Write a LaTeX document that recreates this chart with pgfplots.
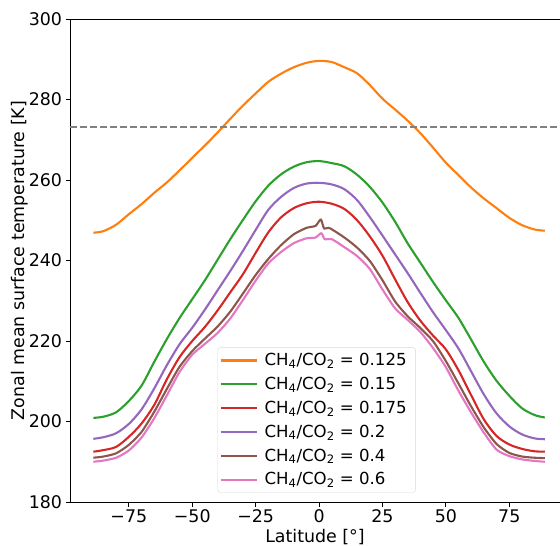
\documentclass[border=0pt]{standalone}
\usepackage{pgfplots}
\pgfplotsset{compat=1.18}
\usepackage{fontspec}
\setmainfont{DejaVu Sans}
\definecolor{cOr}{HTML}{FF7F0E}
\definecolor{cGr}{HTML}{2CA02C}
\definecolor{cRe}{HTML}{D62728}
\definecolor{cPu}{HTML}{9467BD}
\definecolor{cBr}{HTML}{8C564B}
\definecolor{cPi}{HTML}{E377C2}
\begin{document}
\begin{tikzpicture}
\begin{axis}[
  scale only axis, width=490pt, height=483pt,
  xmin=-98.2, xmax=95, ymin=180, ymax=300,
  axis x line*=box, axis y line*=left,
  x axis line style={-, line width=0.9pt},
  y axis line style={-, line width=0.9pt},
  xtick pos=left, ytick pos=left,
  tick align=outside, major tick length=4.5pt,
  tick style={black, line width=0.9pt},
  xtick={-75,-50,-25,0,25,50,75},
  xticklabels={−75,−50,−25,0,25,50,75},
  ytick={180,200,220,240,260,280,300},
  yticklabels={180,200,220,240,260,280,300},
  ticklabel style={font=\fontsize{17.4}{20}\selectfont},
  xlabel={Latitude [°]},
  ylabel={Zonal mean surface temperature [K]},
  label style={font=\fontsize{17.4}{20}\selectfont},
  xlabel style={at={([yshift=-40pt]rel axis cs:0.5,0)}, anchor=base},
  ylabel style={at={([xshift=-45pt]rel axis cs:0,0.5)}, anchor=base},
  legend style={at={(0.3006,0.0193)}, anchor=south west, draw=black!15,
    rounded corners=3pt, fill=white, fill opacity=0.8, text opacity=1,
    font=\fontsize{16.6}{19}\selectfont, row sep=6pt, inner xsep=2pt, inner ysep=4pt,
    nodes={inner xsep=7pt}},
  legend cell align=left,
  legend image code/.code={\draw[#1, line width=2.1pt] (0pt,0pt) -- (36pt,0pt);},
  every axis plot/.append style={line width=2.1pt, line join=round},
]
\addplot[cOr, smooth, tension=0.5] coordinates {
(-89,246.9) (-85,247.3) (-80,248.9) (-75,251.5) (-70,254.0) (-65,256.8) (-60,259.4)
(-55,262.4) (-50,265.5) (-45,268.6) (-40,271.8) (-35,275.2) (-30,278.5) (-25,281.5)
(-20,284.4) (-15,286.4) (-10,288.0) (-5,289.1) (0,289.6) (5,289.3) (10,288.0)
(15,286.5) (20,283.6) (25,280.2) (30,277.5) (35,274.7) (40,271.6) (45,268.0)
(50,264.3) (55,261.2) (60,258.1) (65,255.4) (70,253.0) (75,250.6) (80,248.8)
(85,247.7) (89,247.4)};
\addlegendentry{CH\textsubscript{4}/CO\textsubscript{2} = 0.125}
\addplot[cGr, smooth, tension=0.5] coordinates {
(-89,200.9) (-85,201.2) (-80,202.3) (-75,205.1) (-70,208.9) (-65,214.8) (-60,220.5)
(-55,225.7) (-50,230.4) (-45,235.1) (-40,240.2) (-35,245.3) (-30,250.1) (-25,254.7)
(-20,258.6) (-15,261.4) (-10,263.3) (-5,264.4) (0,264.7) (5,264.2) (10,263.4)
(15,261.3) (20,258.3) (25,254.4) (30,249.6) (35,244.2) (40,239.4) (45,234.6)
(50,230.1) (55,225.7) (60,220.3) (65,214.8) (70,210.1) (75,206.4) (80,203.3)
(85,201.6) (89,201.0)};
\addlegendentry{CH\textsubscript{4}/CO\textsubscript{2} = 0.15}
\addplot[cRe, smooth, tension=0.5] coordinates {
(-89,192.5) (-85,192.9) (-80,193.7) (-75,196.2) (-70,199.5) (-65,204.1) (-60,210.5)
(-55,216.0) (-50,220.0) (-45,223.5) (-40,227.6) (-35,232.1) (-30,236.6) (-25,241.9)
(-20,247.0) (-15,250.7) (-10,253.0) (-5,254.2) (0,254.6) (5,254.1) (10,252.8)
(15,250.0) (20,246.0) (25,241.2) (30,235.3) (35,229.6) (40,225.0) (45,221.3)
(50,217.9) (55,212.7) (60,206.5) (65,200.5) (70,196.4) (75,194.3) (80,193.2)
(85,192.6) (89,192.5)};
\addlegendentry{CH\textsubscript{4}/CO\textsubscript{2} = 0.175}
\addplot[cPu, smooth, tension=0.5] coordinates {
(-89,195.7) (-85,196.1) (-80,197.1) (-75,199.4) (-70,203.0) (-65,208.2) (-60,214.0)
(-55,219.2) (-50,223.3) (-45,227.8) (-40,232.6) (-35,237.4) (-30,242.4) (-25,247.6)
(-20,252.6) (-15,255.8) (-10,258.0) (-5,259.1) (0,259.3) (5,258.9) (10,257.7)
(15,255.0) (20,250.8) (25,246.2) (30,241.5) (35,236.8) (40,231.9) (45,227.1)
(50,222.7) (55,218.1) (60,212.4) (65,206.7) (70,202.0) (75,198.8) (80,196.8)
(85,195.8) (89,195.6)};
\addlegendentry{CH\textsubscript{4}/CO\textsubscript{2} = 0.2}
\addplot[cBr, smooth, tension=0.4] coordinates {
(-89,191.0) (-85,191.3) (-80,192.1) (-75,194.2) (-70,197.4) (-65,202.4) (-60,208.1)
(-55,213.6) (-50,217.5) (-45,220.6) (-40,223.6) (-35,227.3) (-30,231.8) (-25,236.4)
(-20,240.4) (-15,243.8) (-10,246.5) (-5,248.1) (-1.4,248.6) (0.7,250.2) (2,247.9)
(4,248.1) (10,245.7) (15,243.2) (20,239.9) (25,235.1) (30,229.8) (35,226.1)
(40,223.2) (45,219.9) (50,215.0) (55,209.4) (60,203.7) (65,198.5) (70,194.4)
(75,192.2) (80,191.3) (85,191.0) (89,190.9)};
\addlegendentry{CH\textsubscript{4}/CO\textsubscript{2} = 0.4}
\addplot[cPi, smooth, tension=0.4] coordinates {
(-89,190.0) (-85,190.3) (-80,191.0) (-75,192.8) (-70,196.0) (-65,200.8) (-60,206.5)
(-55,212.3) (-50,216.6) (-45,219.3) (-40,222.0) (-35,225.6) (-30,230.2) (-25,235.0)
(-20,239.3) (-15,242.1) (-10,244.3) (-5,245.5) (-1.4,245.7) (0.9,246.8) (2.2,245.3)
(5,245.3) (10,243.3) (15,241.1) (20,237.9) (25,232.8) (30,228.1) (35,225.2)
(40,222.2) (45,218.2) (50,213.5) (55,207.6) (60,202.2) (65,197.2) (70,193.0)
(75,191.4) (80,190.6) (85,190.2) (89,190.0)};
\addlegendentry{CH\textsubscript{4}/CO\textsubscript{2} = 0.6}
\addplot[gray, line width=1.5pt, dash pattern=on 7pt off 3pt, forget plot]
  coordinates {(-98.2,273.15) (95,273.15)};
\coordinate (bl) at (rel axis cs:0,0);
\coordinate (tr) at (rel axis cs:1,1);
\end{axis}
\pgfresetboundingbox
\path ([shift={(-70pt,-43pt)}]bl) rectangle ([shift={(0pt,19pt)}]tr);
\end{tikzpicture}
\end{document}
